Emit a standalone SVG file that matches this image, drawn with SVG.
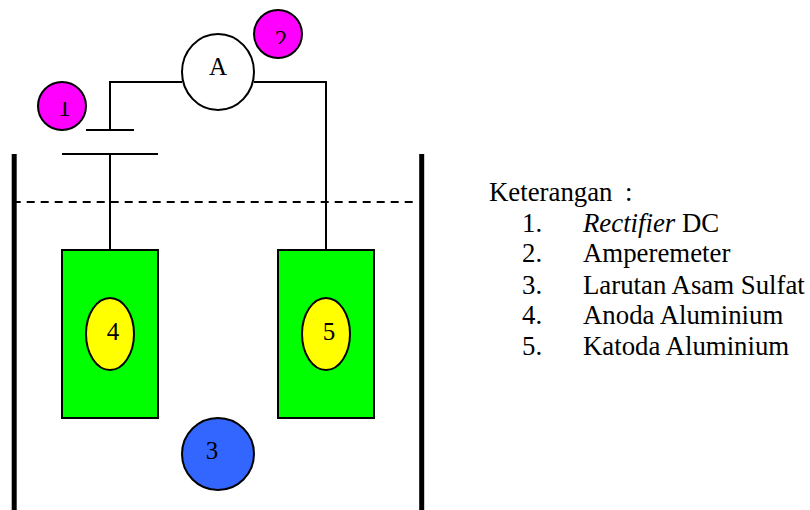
<svg xmlns="http://www.w3.org/2000/svg" width="810" height="510" viewBox="0 0 810 510">
<style>
text{font-family:"Liberation Serif","Times New Roman",serif;fill:#000}
.n{font-size:25px;text-anchor:middle}
.k{font-size:26.8px}
.s{stroke:#000;stroke-width:2}
.w{fill:none;stroke:#000;stroke-width:2}
.wall{stroke:#000;stroke-width:5;fill:none}
</style>
<defs>
<clipPath id="c2"><rect x="254" y="5" width="50" height="39"/></clipPath>
<clipPath id="c1"><rect x="40" y="102" width="50" height="26"/></clipPath>
</defs>
<rect width="810" height="510" fill="#fff"/>
<g id="connectors">
<path class="w" d="M12.700 202H413" stroke-dasharray="8 6"/>
<path class="wall" d="M14.200 154V510M421.700 154V510"/>
<path class="w" d="M182 82H110V130M254 82H326V255"/>
<path class="w" d="M86 130H134M62 154H158M110 154V250"/>
</g>
<g id="node-1"><circle class="s" cx="62" cy="106" r="24" fill="#f0f"/><text class="n" x="64.500" y="116" clip-path="url(#c1)">1</text></g>
<g id="node-2"><circle class="s" cx="278" cy="34" r="24" fill="#f0f"/><text class="n" x="281" y="48" clip-path="url(#c2)">2</text></g>
<g id="node-A"><ellipse class="s" cx="218" cy="72" rx="36" ry="38" fill="#fff"/><text class="n" x="218" y="75">A</text></g>
<g id="node-anode"><rect class="s" x="62" y="250" width="96" height="168" fill="#0f0"/><ellipse class="s" cx="110" cy="334" rx="24" ry="36" fill="#ff0"/><text class="n" x="113" y="340">4</text></g>
<g id="node-cathode"><rect class="s" x="278" y="250" width="96" height="168" fill="#0f0"/><ellipse class="s" cx="326" cy="334" rx="24" ry="36" fill="#ff0"/><text class="n" x="329" y="340">5</text></g>
<g id="node-3"><circle class="s" cx="218" cy="454" r="36" fill="#36f"/><text class="n" x="212" y="459">3</text></g>
<g id="legend">
<text class="k" x="489" y="201">Keterangan</text><text class="k" x="625" y="201">:</text>
<text class="k" x="522" y="232">1.</text><text class="k" x="583" y="232"><tspan font-style="italic">Rectifier</tspan> DC</text>
<text class="k" x="522" y="262">2.</text><text class="k" x="583" y="262">Amperemeter</text>
<text class="k" x="522" y="293.500">3.</text><text class="k" x="583" y="293.500">Larutan Asam Sulfat</text>
<text class="k" x="522" y="324">4.</text><text class="k" x="583" y="324">Anoda Aluminium</text>
<text class="k" x="522" y="354.500">5.</text><text class="k" x="583" y="354.500">Katoda Aluminium</text>
</g>
</svg>
